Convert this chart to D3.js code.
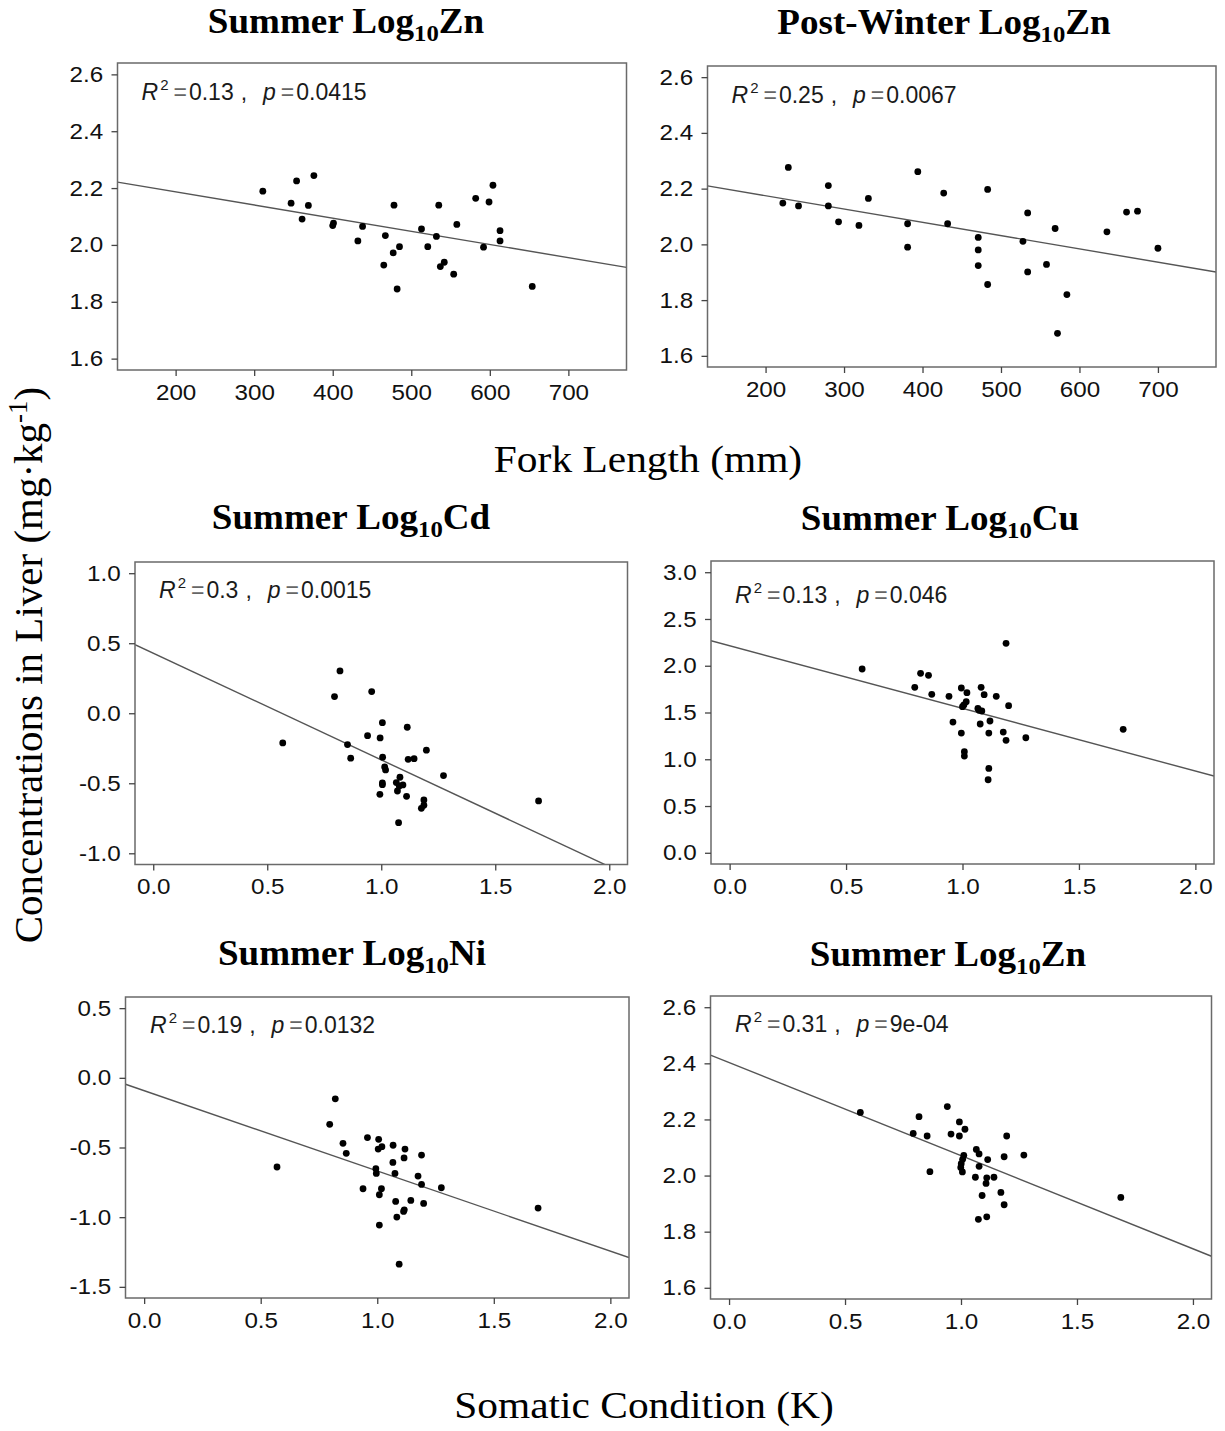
<!DOCTYPE html>
<html><head><meta charset="utf-8">
<script src="https://cdn.jsdelivr.net/npm/d3@7"></script>
<style>body{margin:0;background:#fff}</style>
</head><body><svg id="c" width="1225" height="1431" xmlns="http://www.w3.org/2000/svg"></svg>
<script>
// ---------- DATA ----------
const titlePrefix = ["Summer ", "Post-Winter ", "Summer ", "Summer ", "Summer ", "Summer "];
const titleElement = ["Zn", "Zn", "Cd", "Cu", "Ni", "Zn"];
const r2Labels = ["0.13", "0.25", "0.3", "0.13", "0.19", "0.31"];
const pLabels = ["0.0415", "0.0067", "0.0015", "0.046", "0.0132", "9e-04"];

// Panel 1: Summer Log10Zn vs Fork Length
const summerFL = [311,347,354,376,369,361,401,400,438,432,467,478,477,485,465,482,513,521,532,535,537,542,554,558,582,599,604,592,613,613,654];
const summerZnFL = [2.189,2.147,2.225,2.244,2.139,2.091,2.077,2.068,2.065,2.014,2.033,2.140,1.972,1.994,1.929,1.845,2.056,1.994,2.030,2.140,1.924,1.939,1.897,2.072,2.164,2.151,2.210,1.992,2.050,2.014,1.854];

// Panel 2: Post-Winter Log10Zn vs Fork Length
const winterFL = [222,229,242,280,280,293,319,331,381,381,394,427,432,471,471,471,483,483,528,534,534,558,569,572,584,635,660,674,700];
const winterZnFL = [2.148,2.276,2.138,2.211,2.138,2.081,2.068,2.165,2.074,1.990,2.261,2.184,2.074,2.025,1.980,1.924,2.197,1.856,2.011,2.113,1.901,1.928,2.057,1.681,1.820,2.045,2.116,2.119,1.986];

// Panel 3: Summer Log10Cd vs K
const cdK = [0.568,0.795,0.819,0.958,0.852,0.866,0.940,0.995,1.005,1.006,1.015,1.019,1.005,1.005,0.994,1.066,1.071,1.082,1.079,1.095,1.076,1.111,1.114,1.118,1.144,1.198,1.187,1.187,1.176,1.273,1.690];
const cdVal = [-0.212,0.119,0.302,0.155,-0.224,-0.321,-0.160,-0.176,-0.067,-0.314,-0.383,-0.405,-0.498,-0.510,-0.579,-0.495,-0.555,-0.457,-0.519,-0.512,-0.781,-0.593,-0.100,-0.329,-0.324,-0.264,-0.619,-0.657,-0.679,-0.445,-0.626];

// Panel 4: Summer Log10Cu vs K
const cuK = [0.569,0.795,0.820,0.854,0.868,0.942,0.959,0.995,1.000,1.006,1.016,1.019,0.995,1.008,1.008,1.066,1.071,1.083,1.080,1.076,1.093,1.118,1.113,1.113,1.110,1.145,1.187,1.198,1.175,1.187,1.272,1.690];
const cuVal = [1.965,1.769,1.919,1.898,1.694,1.673,1.398,1.762,1.562,1.580,1.616,1.712,1.280,1.081,1.034,1.544,1.523,1.516,1.769,1.377,1.691,1.409,1.280,0.902,0.781,1.673,2.240,1.573,1.291,1.202,1.230,1.320];

// Panel 5: Summer Log10Ni vs K
const niK = [0.570,0.796,0.820,0.853,0.867,0.958,0.939,1.006,1.004,1.020,0.994,0.996,1.009,1.018,1.009,1.068,1.067,1.076,1.079,1.084,1.094,1.113,1.116,1.119,1.115,1.144,1.175,1.190,1.190,1.199,1.275,1.690];
const niVal = [-0.640,-0.334,-0.151,-0.470,-0.542,-0.429,-0.796,-0.441,-0.511,-0.494,-0.652,-0.686,-0.839,-0.796,-1.057,-0.484,-0.607,-0.686,-0.887,-0.999,-1.337,-0.959,-0.947,-0.511,-0.575,-0.880,-0.705,-0.554,-0.765,-0.901,-0.789,-0.935];

// Panel 6: Summer Log10Zn vs K
const znK = [0.566,0.794,0.819,0.854,0.866,0.941,0.957,0.993,0.993,1.017,1.012,1.007,1.001,0.999,1.006,1.066,1.078,1.078,1.062,1.115,1.111,1.108,1.142,1.091,1.075,1.111,1.172,1.186,1.186,1.197,1.271,1.689];
const znVal = [2.225,2.150,2.210,2.141,2.014,2.246,2.148,2.191,2.141,2.165,2.072,2.058,2.042,2.029,2.013,2.093,2.077,2.033,1.994,2.057,1.992,1.972,1.994,1.929,1.844,1.853,1.940,1.896,2.067,2.141,2.073,1.922];

// Fitted regression lines
const fitIntercepts = [2.2793, 2.270, 0.429, 2.214, -0.092, 2.403];
const fitSlopes = [-0.000463, -0.000477, -0.762, -0.670, -0.576, -0.332];

// Axis limits and tick values
const xLimits = [[150,750],[150,750],[0,2],[0,2],[0,2],[0,2]];
const yLimits = [[1.6,2.6],[1.6,2.6],[-1,1],[0,3],[-1.5,0.5],[1.6,2.6]];
const xTicksLength = [200,300,400,500,600,700];
const xTicksK = [0,0.5,1,1.5,2];
const yTicksZn = [1.6,1.8,2.0,2.2,2.4,2.6];
const yTicksCd = [-1,-0.5,0,0.5,1];
const yTicksCu = [0,0.5,1,1.5,2,2.5,3];
const yTicksNi = [-1.5,-1,-0.5,0,0.5];

const xLabelTop = "Fork Length (mm)";
const xLabelBottom = "Somatic Condition (K)";
const yLabelMain = "Concentrations in Liver (mg\u00B7kg";
const yLabelSup = "-1";

// ---------- LAYOUT ----------
const series = [
  [summerFL, summerZnFL], [winterFL, winterZnFL], [cdK, cdVal],
  [cuK, cuVal], [niK, niVal], [znK, znVal]
];
const xTickSets = [xTicksLength, xTicksLength, xTicksK, xTicksK, xTicksK, xTicksK];
const yTickSets = [yTicksZn, yTicksZn, yTicksCd, yTicksCu, yTicksNi, yTicksZn];
const layout = [
  {l:117.5, t:63,  r:626.5, b:370,   tx:346, ty:33,  ax:141.5, ay:100},
  {l:707.5, t:66,  r:1216,  b:367,   tx:944, ty:34,  ax:731.5, ay:103},
  {l:135,   t:562, r:627.5, b:864.5, tx:351, ty:529, ax:159,   ay:598},
  {l:711,   t:561, r:1214,  b:864,   tx:940, ty:530, ax:735,   ay:603},
  {l:125.5, t:997, r:629,   b:1298,  tx:352, ty:965, ax:150,   ay:1033},
  {l:710.5, t:996, r:1211.5,b:1299,  tx:948, ty:966, ax:735,   ay:1032}
];

const svg = d3.select("#c");
const SANS = "Liberation Sans, Arial, Helvetica, sans-serif";
const SERIF = "Liberation Serif, Times New Roman, serif";
const expand = (lim) => { const d = (lim[1]-lim[0])*0.04; return [lim[0]-d, lim[1]+d]; };
const fmtHy = (f) => (v) => f(v).replace("\u2212", "-");

layout.forEach((L, i) => {
  const x = d3.scaleLinear().domain(expand(xLimits[i])).range([L.l, L.r]);
  const y = d3.scaleLinear().domain(expand(yLimits[i])).range([L.b, L.t]);
  const g = svg.append("g");

  const cid = "clip" + i;
  svg.append("defs").append("clipPath").attr("id", cid)
    .append("rect").attr("x", L.l).attr("y", L.t).attr("width", L.r - L.l).attr("height", L.b - L.t);

  // regression line
  const xd = x.domain();
  g.append("line")
    .attr("clip-path", `url(#${cid})`)
    .attr("x1", x(xd[0])).attr("y1", y(fitIntercepts[i] + fitSlopes[i]*xd[0]))
    .attr("x2", x(xd[1])).attr("y2", y(fitIntercepts[i] + fitSlopes[i]*xd[1]))
    .attr("stroke", "#555").attr("stroke-width", 1.4);

  // points
  const [xs, ys] = series[i];
  g.selectAll("circle.pt").data(xs.map((v, k) => [v, ys[k]])).join("circle")
    .attr("class", "pt")
    .attr("cx", d => x(d[0])).attr("cy", d => y(d[1])).attr("r", 3.4)
    .attr("fill", "#000");

  // box
  g.append("rect").attr("x", L.l).attr("y", L.t)
    .attr("width", L.r - L.l).attr("height", L.b - L.t)
    .attr("fill", "none").attr("stroke", "#6a6a6a").attr("stroke-width", 1.5);

  // axes
  const xFmt = i < 2 ? d3.format("d") : fmtHy(d3.format(".1f"));
  const xa = g.append("g").attr("transform", `translate(0,${L.b})`)
    .call(d3.axisBottom(x).tickValues(xTickSets[i]).tickSize(6).tickPadding(8).tickFormat(xFmt));
  const ya = g.append("g").attr("transform", `translate(${L.l},0)`)
    .call(d3.axisLeft(y).tickValues(yTickSets[i]).tickSize(6).tickPadding(7).tickFormat(fmtHy(d3.format(".1f"))));
  [xa, ya].forEach(a => {
    a.select(".domain").remove();
    a.selectAll(".tick line").attr("stroke", "#444").attr("stroke-width", 1.3);
    a.selectAll(".tick text").attr("fill", "#111")
      .attr("transform", "scale(1.1,1)")
      .style("font-family", SANS).style("font-size", "22px");
  });

  // title
  const t = svg.append("text").attr("transform", `translate(${L.tx},${L.ty}) scale(1.03,1)`)
    .attr("text-anchor", "middle")
    .style("font-family", SERIF).style("font-weight", "bold").style("font-size", "36px").attr("fill", "#000");
  t.append("tspan").text(titlePrefix[i] + "Log");
  t.append("tspan").attr("dy", 8).style("font-size", "24px").text("10");
  t.append("tspan").attr("dy", -8).text(titleElement[i]);

  // annotation
  const a = svg.append("text").attr("x", L.ax).attr("y", L.ay)
    .style("font-family", SANS).style("font-size", "23px").attr("fill", "#1a1a1a");
  a.append("tspan").style("font-style", "italic").text("R");
  a.append("tspan").attr("dx", 2).attr("dy", -10).style("font-size", "15px").text("2");
  a.append("tspan").attr("dx", 5).attr("dy", 10).attr("fill", "#666").text("=");
  a.append("tspan").attr("dx", 2).text(r2Labels[i]);
  a.append("tspan").attr("dx", 7).text(",");
  a.append("tspan").attr("dx", 16).style("font-style", "italic").text("p");
  a.append("tspan").attr("dx", 5).attr("fill", "#666").text("=");
  a.append("tspan").attr("dx", 2).text(pLabels[i]);
});

// axis labels
svg.append("text").attr("transform", "translate(648,472) scale(1.12,1)").attr("text-anchor", "middle")
  .style("font-family", SERIF).style("font-size", "37px").attr("fill", "#000").text(xLabelTop);
svg.append("text").attr("transform", "translate(644,1418) scale(1.09,1)").attr("text-anchor", "middle")
  .style("font-family", SERIF).style("font-size", "38px").attr("fill", "#000").text(xLabelBottom);
const yl = svg.append("text").attr("transform", "translate(42,665) rotate(-90)")
  .attr("text-anchor", "middle")
  .style("font-family", SERIF).style("font-size", "41px").attr("fill", "#000");
yl.append("tspan").text(yLabelMain);
yl.append("tspan").attr("dy", -15).style("font-size", "27px").text(yLabelSup);
yl.append("tspan").attr("dy", 15).text(")");
</script></body></html>
